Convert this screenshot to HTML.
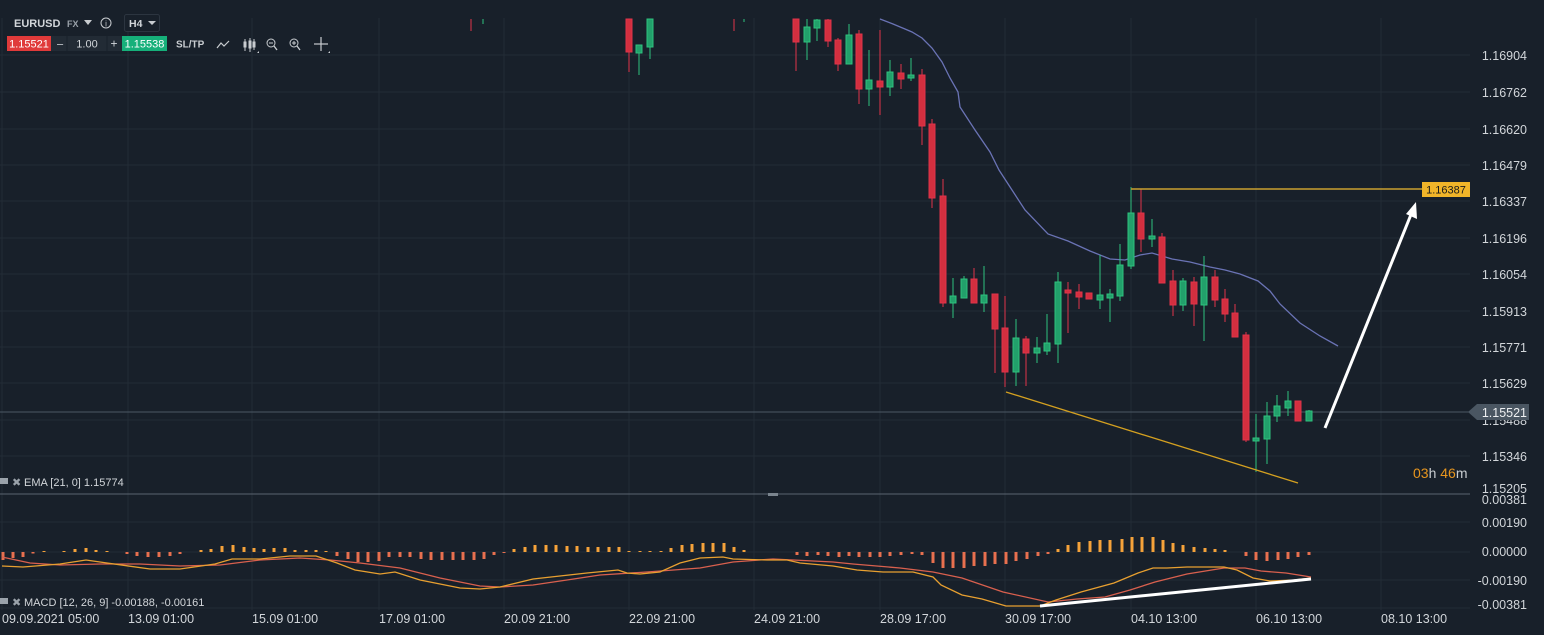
<!DOCTYPE html>
<html><head><meta charset="utf-8"><style>
body{margin:0;background:#18202a;width:1544px;height:635px;overflow:hidden;font-family:"Liberation Sans",sans-serif}
svg{position:absolute;left:0;top:0}
text{font-family:"Liberation Sans",sans-serif}
</style></head><body>
<svg width="1544" height="635" viewBox="0 0 1544 635">
<rect width="1544" height="635" fill="#18202a"/>
<g stroke="#222c36" stroke-width="1">
<line x1="0" y1="55" x2="1470" y2="55"/><line x1="0" y1="92" x2="1470" y2="92"/><line x1="0" y1="129" x2="1470" y2="129"/><line x1="0" y1="165" x2="1470" y2="165"/><line x1="0" y1="201" x2="1470" y2="201"/><line x1="0" y1="238" x2="1470" y2="238"/><line x1="0" y1="274" x2="1470" y2="274"/><line x1="0" y1="311" x2="1470" y2="311"/><line x1="0" y1="347" x2="1470" y2="347"/><line x1="0" y1="383" x2="1470" y2="383"/><line x1="0" y1="420" x2="1470" y2="420"/><line x1="0" y1="456" x2="1470" y2="456"/>
<line x1="0" y1="522" x2="1470" y2="522"/><line x1="0" y1="552" x2="1470" y2="552"/><line x1="0" y1="580" x2="1470" y2="580"/><line x1="0" y1="608" x2="1470" y2="608"/>
<line x1="2" y1="0" x2="2" y2="610"/><line x1="128" y1="0" x2="128" y2="610"/><line x1="252" y1="0" x2="252" y2="610"/><line x1="379" y1="0" x2="379" y2="610"/><line x1="504" y1="0" x2="504" y2="610"/><line x1="629" y1="0" x2="629" y2="610"/><line x1="754" y1="0" x2="754" y2="610"/><line x1="880" y1="0" x2="880" y2="610"/><line x1="1005" y1="0" x2="1005" y2="610"/><line x1="1131" y1="0" x2="1131" y2="610"/><line x1="1256" y1="0" x2="1256" y2="610"/><line x1="1381" y1="0" x2="1381" y2="610"/>
</g>
<!-- separator -->
<line x1="0" y1="494" x2="1470" y2="494" stroke="#5a6470" stroke-width="1"/>
<rect x="768" y="493" width="10" height="3" fill="#7a848e"/>
<!-- price line -->
<line x1="0" y1="412" x2="1470" y2="412" stroke="#4c5864" stroke-width="1"/>
<!-- EMA -->
<polyline fill="none" stroke="#6a73b5" stroke-width="1.3" points="880,19 893,24 905,29 912,32 922,38 932,48 942,62 950,78 958,92 960,107 975,130 990,152 999,170 1025,210 1048,234 1068,241 1090,251 1110,259 1125,260 1140,255 1152,253 1172,259 1190,262 1210,267 1225,270 1240,274 1258,281 1270,291 1280,304 1300,323 1320,336 1338,346"/>
<!-- candles -->
<g id="c">
<g stroke-width="1">
<!-- wicks -->
<g stroke="#e0334a">
<line x1="471" y1="19" x2="471" y2="31"/>
<line x1="629" y1="19" x2="629" y2="72"/><line x1="734" y1="19" x2="734" y2="31"/><line x1="796" y1="19" x2="796" y2="71"/><line x1="828" y1="19" x2="828" y2="47"/><line x1="838" y1="38" x2="838" y2="71"/><line x1="859" y1="30" x2="859" y2="104"/><line x1="880" y1="30" x2="880" y2="115"/><line x1="901" y1="64" x2="901" y2="89"/><line x1="922" y1="69" x2="922" y2="145"/><line x1="932" y1="119" x2="932" y2="208"/><line x1="943" y1="179" x2="943" y2="307"/><line x1="974" y1="268" x2="974" y2="303"/><line x1="995" y1="294" x2="995" y2="373"/><line x1="1005" y1="296" x2="1005" y2="387"/><line x1="1026" y1="336" x2="1026" y2="386"/><line x1="1068" y1="282" x2="1068" y2="333"/><line x1="1079" y1="284" x2="1079" y2="309"/><line x1="1089" y1="293" x2="1089" y2="299"/><line x1="1141" y1="189" x2="1141" y2="252"/><line x1="1162" y1="233" x2="1162" y2="283"/><line x1="1173" y1="270" x2="1173" y2="316"/><line x1="1194" y1="277" x2="1194" y2="326"/><line x1="1215" y1="270" x2="1215" y2="307"/><line x1="1225" y1="289" x2="1225" y2="322"/><line x1="1235" y1="304" x2="1235" y2="337"/><line x1="1246" y1="332" x2="1246" y2="442"/><line x1="1298" y1="401" x2="1298" y2="421"/>
</g>
<g stroke="#2ec27e">
<line x1="483" y1="19" x2="483" y2="24"/>
<line x1="639" y1="45" x2="639" y2="75"/><line x1="650" y1="19" x2="650" y2="59"/><line x1="744" y1="19" x2="744" y2="22"/><line x1="807" y1="19" x2="807" y2="60"/><line x1="817" y1="19" x2="817" y2="41"/><line x1="849" y1="24" x2="849" y2="64"/><line x1="869" y1="50" x2="869" y2="106"/><line x1="890" y1="60" x2="890" y2="96"/><line x1="911" y1="58" x2="911" y2="81"/><line x1="953" y1="278" x2="953" y2="318"/><line x1="964" y1="276" x2="964" y2="298"/><line x1="984" y1="266" x2="984" y2="312"/><line x1="1016" y1="319" x2="1016" y2="386"/><line x1="1037" y1="337" x2="1037" y2="363"/><line x1="1047" y1="314" x2="1047" y2="355"/><line x1="1058" y1="272" x2="1058" y2="363"/><line x1="1100" y1="255" x2="1100" y2="309"/><line x1="1110" y1="289" x2="1110" y2="322"/><line x1="1120" y1="244" x2="1120" y2="301"/><line x1="1131" y1="187" x2="1131" y2="269"/><line x1="1152" y1="219" x2="1152" y2="247"/><line x1="1183" y1="278" x2="1183" y2="311"/><line x1="1204" y1="256" x2="1204" y2="341"/><line x1="1256" y1="414" x2="1256" y2="472"/><line x1="1267" y1="402" x2="1267" y2="464"/><line x1="1277" y1="395" x2="1277" y2="422"/><line x1="1288" y1="391" x2="1288" y2="416"/><line x1="1309" y1="410" x2="1309" y2="421"/>
</g>
</g>
<g fill="#d32f3f" stroke="#e0334a">
<rect x="626" y="19" width="6" height="33"/><rect x="793" y="19" width="6" height="23"/><rect x="825" y="20" width="6" height="21"/><rect x="835" y="40" width="6" height="24"/><rect x="856" y="34" width="6" height="55"/><rect x="877" y="81" width="6" height="6"/><rect x="898" y="73" width="6" height="6"/><rect x="919" y="75" width="6" height="51"/><rect x="929" y="124" width="6" height="74"/><rect x="940" y="196" width="6" height="107"/><rect x="971" y="279" width="6" height="24"/><rect x="992" y="294" width="6" height="35"/><rect x="1002" y="328" width="6" height="44"/><rect x="1023" y="339" width="6" height="14"/><rect x="1065" y="290" width="6" height="3"/><rect x="1076" y="292" width="6" height="5"/><rect x="1086" y="293" width="6" height="6"/><rect x="1138" y="213" width="6" height="26"/><rect x="1159" y="237" width="6" height="46"/><rect x="1170" y="281" width="6" height="24"/><rect x="1191" y="282" width="6" height="22"/><rect x="1212" y="277" width="6" height="23"/><rect x="1222" y="299" width="6" height="15"/><rect x="1232" y="313" width="6" height="24"/><rect x="1243" y="335" width="6" height="105"/><rect x="1295" y="401" width="6" height="20"/>
</g>
<g fill="#22a06b" stroke="#2ec27e">
<rect x="636" y="45" width="6" height="8"/><rect x="647" y="19" width="6" height="28"/><rect x="804" y="27" width="6" height="15"/><rect x="814" y="20" width="6" height="8"/><rect x="846" y="35" width="6" height="29"/><rect x="866" y="80" width="6" height="9"/><rect x="887" y="72" width="6" height="15"/><rect x="908" y="75" width="6" height="3"/><rect x="950" y="296" width="6" height="7"/><rect x="961" y="279" width="6" height="19"/><rect x="981" y="295" width="6" height="8"/><rect x="1013" y="338" width="6" height="34"/><rect x="1034" y="348" width="6" height="5"/><rect x="1044" y="343" width="6" height="8"/><rect x="1055" y="282" width="6" height="62"/><rect x="1097" y="295" width="6" height="5"/><rect x="1107" y="294" width="6" height="4"/><rect x="1117" y="265" width="6" height="31"/><rect x="1128" y="213" width="6" height="53"/><rect x="1149" y="236" width="6" height="3"/><rect x="1180" y="281" width="6" height="24"/><rect x="1201" y="277" width="6" height="28"/><rect x="1253" y="438" width="6" height="3"/><rect x="1264" y="416" width="6" height="23"/><rect x="1274" y="406" width="6" height="10"/><rect x="1285" y="401" width="6" height="7"/><rect x="1306" y="411" width="6" height="10"/>
</g>
</g>
<!-- mask top area over candles -->
<rect x="0" y="0" width="1470" height="18" fill="#18202a"/>
<!-- gold lines -->
<line x1="1131" y1="189" x2="1422" y2="189" stroke="#c9a030" stroke-width="1.5"/>
<line x1="1006" y1="392" x2="1298" y2="483" stroke="#d4a020" stroke-width="1.3"/>
<rect x="1422" y="182" width="48" height="15" fill="#f0b429"/>
<text x="1446" y="193.5" font-size="11" fill="#1a1a1a" text-anchor="middle">1.16387</text>
<!-- white arrow -->
<line x1="1325" y1="428" x2="1412" y2="212" stroke="#fff" stroke-width="3"/>
<polygon points="1416,202 1417,219 1406,214" fill="#fff"/>
<!-- price axis -->
<g font-size="12.5" fill="#d2d6da" text-anchor="end">
<text x="1527" y="60">1.16904</text><text x="1527" y="97">1.16762</text><text x="1527" y="134">1.16620</text><text x="1527" y="170">1.16479</text><text x="1527" y="206">1.16337</text><text x="1527" y="243">1.16196</text><text x="1527" y="279">1.16054</text><text x="1527" y="316">1.15913</text><text x="1527" y="352">1.15771</text><text x="1527" y="388">1.15629</text><text x="1527" y="425">1.15488</text><text x="1527" y="461">1.15346</text><text x="1527" y="493">1.15205</text>
<text x="1527" y="504">0.00381</text><text x="1527" y="527">0.00190</text><text x="1527" y="556">0.00000</text><text x="1527" y="585">-0.00190</text><text x="1527" y="609">-0.00381</text>
</g>
<polygon points="1468,412 1477,404 1529,404 1529,420 1477,420" fill="#4a5662"/>
<text x="1527" y="417" font-size="12.5" fill="#eef0f2" text-anchor="end">1.15521</text>
<text x="1413" y="478" font-size="14" fill="#e8961e">03<tspan fill="#c8ccd0">h</tspan> 46<tspan fill="#c8ccd0">m</tspan></text>
<!-- MACD histogram -->
<g id="h" stroke-width="3">
<g stroke="#e8704f">
<line x1="3" y1="552" x2="3" y2="560"/><line x1="13" y1="552" x2="13" y2="558"/><line x1="23" y1="552" x2="23" y2="557"/><line x1="33" y1="552" x2="33" y2="553.5"/>
<line x1="127" y1="552" x2="127" y2="554"/><line x1="137" y1="552" x2="137" y2="556"/><line x1="148" y1="552" x2="148" y2="557"/><line x1="159" y1="552" x2="159" y2="557"/><line x1="170" y1="552" x2="170" y2="556"/><line x1="180" y1="552" x2="180" y2="554"/>
<line x1="337" y1="552" x2="337" y2="556"/><line x1="348" y1="552" x2="348" y2="559"/><line x1="358" y1="552" x2="358" y2="562"/><line x1="368" y1="552" x2="368" y2="562"/><line x1="379" y1="552" x2="379" y2="561"/><line x1="389" y1="552" x2="389" y2="557"/><line x1="400" y1="552" x2="400" y2="557"/><line x1="410" y1="552" x2="410" y2="557"/><line x1="421" y1="552" x2="421" y2="559"/><line x1="431" y1="552" x2="431" y2="560"/><line x1="442" y1="552" x2="442" y2="560"/><line x1="453" y1="552" x2="453" y2="560"/><line x1="463" y1="552" x2="463" y2="560"/><line x1="474" y1="552" x2="474" y2="560"/><line x1="484" y1="552" x2="484" y2="559"/><line x1="494" y1="552" x2="494" y2="555"/><line x1="504" y1="552" x2="504" y2="553"/>
<line x1="797" y1="552" x2="797" y2="555"/><line x1="807" y1="552" x2="807" y2="556"/><line x1="818" y1="552" x2="818" y2="555"/><line x1="828" y1="552" x2="828" y2="556"/><line x1="839" y1="552" x2="839" y2="557"/><line x1="849" y1="552" x2="849" y2="556"/><line x1="859" y1="552" x2="859" y2="557"/><line x1="870" y1="552" x2="870" y2="557"/><line x1="880" y1="552" x2="880" y2="557"/><line x1="890" y1="552" x2="890" y2="556"/><line x1="901" y1="552" x2="901" y2="555"/><line x1="912" y1="552" x2="912" y2="554"/><line x1="922" y1="552" x2="922" y2="555"/><line x1="933" y1="552" x2="933" y2="563"/><line x1="943" y1="552" x2="943" y2="568"/><line x1="953" y1="552" x2="953" y2="568"/><line x1="964" y1="552" x2="964" y2="568"/><line x1="974" y1="552" x2="974" y2="566"/><line x1="985" y1="552" x2="985" y2="566"/><line x1="995" y1="552" x2="995" y2="564"/><line x1="1006" y1="552" x2="1006" y2="564"/><line x1="1016" y1="552" x2="1016" y2="561"/><line x1="1027" y1="552" x2="1027" y2="559"/><line x1="1038" y1="552" x2="1038" y2="556"/><line x1="1048" y1="552" x2="1048" y2="554"/>
<line x1="1246" y1="552" x2="1246" y2="556"/><line x1="1256" y1="552" x2="1256" y2="560"/><line x1="1267" y1="552" x2="1267" y2="561"/><line x1="1278" y1="552" x2="1278" y2="560"/><line x1="1288" y1="552" x2="1288" y2="559"/><line x1="1298" y1="552" x2="1298" y2="557"/><line x1="1309" y1="552" x2="1309" y2="555"/>
</g>
<g stroke="#f5a23a">
<line x1="44" y1="552" x2="44" y2="551"/><line x1="64" y1="552" x2="64" y2="551"/><line x1="75" y1="552" x2="75" y2="549"/><line x1="86" y1="552" x2="86" y2="548"/><line x1="96" y1="552" x2="96" y2="550"/><line x1="107" y1="552" x2="107" y2="551"/>
<line x1="201" y1="552" x2="201" y2="550"/><line x1="211" y1="552" x2="211" y2="549"/><line x1="222" y1="552" x2="222" y2="546"/><line x1="233" y1="552" x2="233" y2="545"/><line x1="244" y1="552" x2="244" y2="547"/><line x1="254" y1="552" x2="254" y2="548"/><line x1="264" y1="552" x2="264" y2="549"/><line x1="274" y1="552" x2="274" y2="548"/><line x1="285" y1="552" x2="285" y2="548"/><line x1="295" y1="552" x2="295" y2="550"/><line x1="306" y1="552" x2="306" y2="550"/><line x1="316" y1="552" x2="316" y2="550"/><line x1="326" y1="552" x2="326" y2="551"/>
<line x1="514" y1="552" x2="514" y2="549"/><line x1="525" y1="552" x2="525" y2="547"/><line x1="535" y1="552" x2="535" y2="545"/><line x1="546" y1="552" x2="546" y2="545"/><line x1="556" y1="552" x2="556" y2="545"/><line x1="567" y1="552" x2="567" y2="546"/><line x1="577" y1="552" x2="577" y2="546"/><line x1="588" y1="552" x2="588" y2="547"/><line x1="598" y1="552" x2="598" y2="547"/><line x1="609" y1="552" x2="609" y2="547"/><line x1="619" y1="552" x2="619" y2="547"/><line x1="629" y1="552" x2="629" y2="551"/><line x1="640" y1="552" x2="640" y2="551"/><line x1="650" y1="552" x2="650" y2="551"/><line x1="661" y1="552" x2="661" y2="551"/><line x1="671" y1="552" x2="671" y2="548"/><line x1="682" y1="552" x2="682" y2="545"/><line x1="692" y1="552" x2="692" y2="544"/><line x1="703" y1="552" x2="703" y2="543"/><line x1="713" y1="552" x2="713" y2="543"/><line x1="724" y1="552" x2="724" y2="543"/><line x1="734" y1="552" x2="734" y2="547"/><line x1="744" y1="552" x2="744" y2="550"/>
<line x1="1058" y1="552" x2="1058" y2="549"/><line x1="1068" y1="552" x2="1068" y2="545"/><line x1="1079" y1="552" x2="1079" y2="542"/><line x1="1090" y1="552" x2="1090" y2="541"/><line x1="1100" y1="552" x2="1100" y2="540"/><line x1="1110" y1="552" x2="1110" y2="540"/><line x1="1122" y1="552" x2="1122" y2="539"/><line x1="1132" y1="552" x2="1132" y2="537"/><line x1="1142" y1="552" x2="1142" y2="537"/><line x1="1153" y1="552" x2="1153" y2="537"/><line x1="1163" y1="552" x2="1163" y2="540"/><line x1="1173" y1="552" x2="1173" y2="543"/><line x1="1183" y1="552" x2="1183" y2="545"/><line x1="1194" y1="552" x2="1194" y2="547"/><line x1="1205" y1="552" x2="1205" y2="548"/><line x1="1215" y1="552" x2="1215" y2="549"/><line x1="1225" y1="552" x2="1225" y2="550"/>
</g>
</g>
<!-- MACD lines -->
<polyline fill="none" stroke="#d9604e" stroke-width="1.3" points="2,557 30,563 60,565 100,564 140,564 180,566 220,565 260,560 300,558 330,560 360,563 400,568 440,578 480,586 500,587 533,585 567,580 600,575 647,572 700,568 733,562 773,559 793,560 833,562 853,564 900,568 933,572 962,578 1003,592 1048,602 1077,599 1105,597 1130,590 1155,582 1187,574 1224,568 1245,568 1261,571 1286,573 1311,577"/>
<polyline fill="none" stroke="#e8a030" stroke-width="1.3" points="2,566 23,567 60,564 86,560 107,563 150,569 180,569 215,564 232,559 260,559 290,556 316,556 337,563 355,570 380,574 395,572 420,580 460,588 480,589 500,587 533,579 587,573 618,570 627,573 640,574 660,572 680,563 700,558 723,557 733,559 767,560 787,560 800,563 833,566 857,570 883,572 913,572 933,577 941,585 962,595 982,599 1006,606 1040,606 1056,600 1081,592 1114,583 1138,573 1153,568 1167,568 1187,567 1224,567 1237,570 1253,578 1270,581 1294,580 1311,578"/>
<line x1="1040" y1="606" x2="1311" y2="579" stroke="#fff" stroke-width="3"/>
<!-- date axis -->
<g font-size="12.5" fill="#d2d6da">
<text x="2" y="623">09.09.2021 05:00</text><text x="128" y="623">13.09 01:00</text><text x="252" y="623">15.09 01:00</text><text x="379" y="623">17.09 01:00</text><text x="504" y="623">20.09 21:00</text><text x="629" y="623">22.09 21:00</text><text x="754" y="623">24.09 21:00</text><text x="880" y="623">28.09 17:00</text><text x="1005" y="623">30.09 17:00</text><text x="1131" y="623">04.10 13:00</text><text x="1256" y="623">06.10 13:00</text><text x="1381" y="623">08.10 13:00</text>
</g>
<!-- indicator labels -->
<g font-size="11" fill="#d2d6da">
<rect x="0" y="478" width="8" height="6" fill="#9aa2aa"/><text x="12" y="486" fill="#9aa2aa">✖</text><text x="24" y="486">EMA [21, 0] 1.15774</text>
<rect x="0" y="598" width="8" height="6" fill="#9aa2aa"/><text x="12" y="606" fill="#9aa2aa">✖</text><text x="24" y="606">MACD [12, 26, 9] -0.00188, -0.00161</text>
</g>
<!-- toolbar -->
<text x="14" y="27" font-size="11" font-weight="bold" fill="#d2d6da">EURUSD</text>
<text x="67" y="27" font-size="9" font-weight="bold" fill="#9aa2aa">FX</text>
<polygon points="84,20 92,20 88,25" fill="#c8ccd0"/>
<circle cx="106" cy="23" r="5" fill="none" stroke="#c8ccd0" stroke-width="1"/><text x="106" y="26.5" font-size="8" fill="#c8ccd0" text-anchor="middle">i</text>
<rect x="124.5" y="14.5" width="35" height="17" rx="2" fill="#18202a" stroke="#2c3540"/>
<text x="129" y="27" font-size="10.5" font-weight="bold" fill="#d2d6da">H4</text>
<polygon points="148,21 156,21 152,25" fill="#c8ccd0"/>
<rect x="7" y="36" width="44" height="15" fill="#e03a3a"/><text x="29" y="47.5" font-size="11" fill="#fff" text-anchor="middle">1.15521</text>
<rect x="51" y="36" width="72" height="15" fill="#222b35"/>
<text x="60" y="47.5" font-size="11" fill="#d2d6da" text-anchor="middle">–</text>
<text x="87" y="47.5" font-size="11" fill="#d2d6da" text-anchor="middle">1.00</text>
<text x="114" y="47.5" font-size="12" fill="#d2d6da" text-anchor="middle">+</text>
<line x1="67" y1="36" x2="67" y2="51" stroke="#18202a"/><line x1="107" y1="36" x2="107" y2="51" stroke="#18202a"/>
<rect x="122" y="36" width="45" height="15" fill="#16b07a"/><text x="144.5" y="47.5" font-size="11" fill="#fff" text-anchor="middle">1.15538</text>
<text x="176" y="47.5" font-size="10" font-weight="bold" fill="#c8ccd0">SL/TP</text>
<polyline points="217,48 221,43 224,46 229,41" fill="none" stroke="#c8ccd0" stroke-width="1.2"/>
<g stroke="#c8ccd0" stroke-width="1" fill="none"><line x1="245" y1="39" x2="245" y2="51"/><rect x="244" y="42" width="2" height="5"/><line x1="250" y1="38" x2="250" y2="52"/><rect x="249" y="41" width="2" height="7"/><line x1="254" y1="39" x2="254" y2="50"/><rect x="253" y="42" width="2" height="5"/></g>
<circle cx="271" cy="43" r="4" fill="none" stroke="#c8ccd0"/><line x1="274" y1="46" x2="277" y2="50" stroke="#c8ccd0" stroke-width="1.3"/><line x1="269" y1="43" x2="273" y2="43" stroke="#c8ccd0"/>
<circle cx="294" cy="43" r="4" fill="none" stroke="#c8ccd0"/><line x1="297" y1="46" x2="300" y2="50" stroke="#c8ccd0" stroke-width="1.3"/><line x1="292" y1="43" x2="296" y2="43" stroke="#c8ccd0"/><line x1="294" y1="41" x2="294" y2="45" stroke="#c8ccd0"/>
<g stroke="#c8ccd0" stroke-width="1.2"><line x1="314" y1="44" x2="328" y2="44"/><line x1="321" y1="37" x2="321" y2="51"/></g>
<polygon points="257,53 259,51 259,53" fill="#c8ccd0"/><polygon points="328,53 330,51 330,53" fill="#c8ccd0"/>
</svg>
</body></html>
